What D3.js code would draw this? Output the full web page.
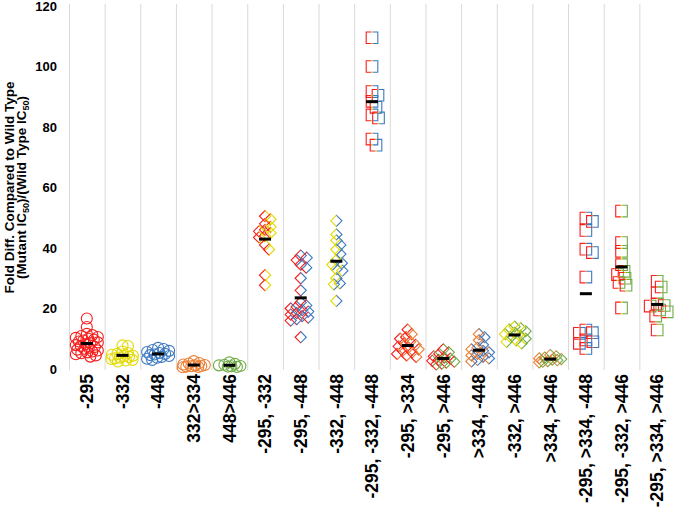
<!DOCTYPE html>
<html>
<head>
<meta charset="utf-8">
<script src="https://cdn.jsdelivr.net/npm/d3@7"></script>
<style>
  body { margin: 0; background: #fff; }
  text { font-family: "Liberation Sans", Arial, sans-serif; font-weight: bold; fill: #000; }
</style>
</head>
<body>
<div id="chart"></div>
<script>
// chart size
var svgWidth = 675;
var svgHeight = 511;

// categories (mutant groups) and the mutations each one carries
var categories = ["-295", "-332", "-448", "332>334", "448>446",
  "-295, -332", "-295, -448", "-332, -448", "-295, -332, -448",
  "-295, >334", "-295, >446", ">334, -448", "-332, >446", ">334, >446",
  "-295, >334, -448", "-295, -332, >446", "-295, >334, >446"];

var groupMutations = [["-295"], ["-332"], ["-448"], [">334"], [">446"],
  ["-295", "-332"], ["-295", "-448"], ["-332", "-448"], ["-295", "-332", "-448"],
  ["-295", ">334"], ["-295", ">446"], [">334", "-448"], ["-332", ">446"], [">334", ">446"],
  ["-295", ">334", "-448"], ["-295", "-332", ">446"], ["-295", ">334", ">446"]];

var mutationColors = {"-295": "#f71d1d", "-332": "#e2d900", "-448": "#3b78c0", ">334": "#ed7d31", ">446": "#6fac46"};

// fold difference values, one array per group
var fd295 = [16.7, 13.9, 11.6, 11.2, 10.9, 10.6, 10.3, 10.0, 9.7, 9.4, 9.1, 8.8, 8.5, 8.2, 7.9, 7.6, 7.3, 7.0, 6.7, 6.4, 6.1, 5.8, 5.5, 5.2, 4.9, 4.5, 4.1];
var fd332 = [7.8, 7.6, 5.8, 5.3, 5.0, 4.7, 4.4, 4.2, 4.0, 3.8, 3.5, 3.3, 3.0, 2.8, 2.5];
var fd448 = [7.0, 6.6, 6.3, 6.0, 5.6, 5.3, 5.0, 4.8, 4.6, 4.3, 4.0, 3.7, 3.4, 3.0];
var fd332to334 = [2.6, 2.0, 1.8, 1.5, 1.3, 1.2, 1.0, 0.9, 0.8, 0.7, 0.6];
var fd448to446 = [2.2, 1.7, 1.4, 1.2, 1.0, 0.9, 0.8, 0.7];
var fd295_332 = [50.5, 49.5, 48, 47, 46, 45.5, 45, 44, 43.5, 41, 39.5, 31, 27.7];
var fd295_448 = [37.5, 36.8, 36, 34.5, 33.5, 30, 26, 22, 21, 20.5, 20, 19.5, 19, 18.5, 18, 17.5, 17, 16.5, 16, 10.5];
var fd332_448 = [49, 44.5, 42.5, 41, 39.5, 38, 36, 35, 34.5, 33, 32.5, 30, 28.3, 28, 22.5];
var fd295_332_448 = [109.5, 100, 91.7, 90.5, 88.5, 86.5, 84, 83, 76, 74];
var fd295_334 = [13, 11.5, 10.5, 10, 9, 8.5, 8, 7.5, 7, 6.5, 6, 5.5, 5, 4.5, 4];
var fd295_446 = [6.5, 5.5, 5, 4.2, 3.8, 3.4, 3, 2.7, 2.4, 2.1, 1.8, 1.5];
var fd334_448 = [11.5, 10.5, 9.5, 8, 7, 6.5, 6, 5.5, 5, 4.5, 4, 3.5, 3, 2.5];
var fd332_446 = [14, 13.5, 13, 12.5, 12, 11.5, 11, 10.5, 10, 9.5, 9, 8.5];
var fd334_446 = [4.6, 4.2, 3.8, 3.5, 3.3, 3.1, 2.9, 2.6, 2.4, 2.2];
var fd295_334_448 = [49.9, 48.8, 45.8, 39.6, 38.5, 30.4, 12.9, 12, 11.8, 9.6, 9, 8.5, 6.8];
var fd295_332_446 = [52.2, 41.8, 38.9, 34.5, 32.3, 31.2, 30, 28.6, 27.7, 20.2];
var fd295_334_446 = [29, 27.1, 25.2, 21.5, 21, 20.8, 19.5, 18.9, 17.5, 12.9];

var groupValues = [fd295, fd332, fd448, fd332to334, fd448to446,
  fd295_332, fd295_448, fd332_448, fd295_332_448,
  fd295_334, fd295_446, fd334_448, fd332_446, fd334_446,
  fd295_334_448, fd295_332_446, fd295_334_446];

var yTicks = [0, 20, 40, 60, 80, 100, 120];

// margins
var margin = {top: 6, right: 0, bottom: 142, left: 69};
var chartWidth = svgWidth - margin.left - margin.right;
var chartHeight = svgHeight - margin.top - margin.bottom;

var svg = d3.select("#chart")
  .append("svg")
  .attr("width", svgWidth)
  .attr("height", svgHeight);

var chartGroup = svg.append("g")
  .attr("transform", `translate(${margin.left}, ${margin.top})`);

// scales
var xScale = d3.scaleBand()
  .domain(categories)
  .range([0, chartWidth])
  .padding(0);

var yScale = d3.scaleLinear()
  .domain([0, 120])
  .range([chartHeight, 0]);

// vertical grid lines between groups
chartGroup.selectAll(".grid")
  .data(categories)
  .enter()
  .append("line")
  .attr("x1", d => xScale(d) + 0.5)
  .attr("x2", d => xScale(d) + 0.5)
  .attr("y1", -2)
  .attr("y2", chartHeight + 1)
  .attr("stroke", "#d9d9d9")
  .attr("stroke-width", 1);

// y axis
var leftAxis = d3.axisLeft(yScale).tickValues(yTicks).tickSize(0).tickPadding(12);
var yAxisG = chartGroup.append("g").call(leftAxis);
yAxisG.select(".domain").remove();
yAxisG.selectAll("text")
  .style("font-family", "'Liberation Sans', Arial, sans-serif")
  .style("font-weight", "bold")
  .style("font-size", "13px")
  .attr("fill", "#000");

// x labels (rotated)
chartGroup.selectAll(".xlabel")
  .data(categories)
  .enter()
  .append("text")
  .attr("transform", d => `translate(${xScale(d) + xScale.bandwidth() / 2}, ${chartHeight + 5}) rotate(-90)`)
  .attr("dy", "0.36em")
  .attr("text-anchor", "end")
  .style("font-size", "17.5px")
  .text(d => d);

// y axis title, two lines
var titleG = svg.append("g")
  .attr("transform", `translate(0, ${margin.top + chartHeight / 2}) rotate(-90)`);
titleG.append("text")
  .attr("y", 14)
  .attr("text-anchor", "middle")
  .style("font-size", "13.5px")
  .text("Fold Diff. Compared to Wild Type");
var line2 = titleG.append("text")
  .attr("y", 26)
  .attr("text-anchor", "middle")
  .style("font-size", "13.5px");
line2.append("tspan").text("(Mutant IC");
line2.append("tspan").attr("dy", 3).style("font-size", "9px").text("50");
line2.append("tspan").attr("dy", -3).text(")/(Wild Type IC");
line2.append("tspan").attr("dy", 3).style("font-size", "9px").text("50");
line2.append("tspan").attr("dy", -3).text(")");

// gradients giving each multi-mutation marker its mixed edge colours
var defs = svg.append("defs");
groupMutations.forEach(function(muts, i) {
  var grad = defs.append("linearGradient")
    .attr("id", "grad" + i)
    .attr("x1", 0).attr("x2", 1).attr("y1", 0).attr("y2", 0);
  var stops;
  if (muts.length === 1) {
    stops = [[0, muts[0]], [1, muts[0]]];
  } else if (muts.length === 2) {
    stops = [[0, muts[0]], [0.42, muts[0]], [0.58, muts[1]], [1, muts[1]]];
  } else {
    stops = [[0, muts[0]], [0.36, muts[0]], [0.5, muts[1]], [0.64, muts[2]], [1, muts[2]]];
  }
  stops.forEach(function(s) {
    grad.append("stop").attr("offset", s[0]).attr("stop-color", mutationColors[s[1]]);
  });
});

// simple beeswarm: keep the value, nudge sideways until it clears placed points,
// staying inside the group's band
function swarm(vals, minDist, maxDx) {
  var pts = vals.map(function(v) { return {v: v, y: yScale(v), dx: 0}; });
  var placed = [];
  pts.slice().sort(function(a, b) { return b.v - a.v; }).forEach(function(p) {
    var best = 0, bestGap = -1, found = false;
    for (var k = 0; ; k++) {
      var dx = (k % 2 ? 1 : -1) * Math.ceil(k / 2) * 0.5;
      if (Math.abs(dx) > maxDx) break;
      var gap = d3.min(placed, function(q) {
        return Math.sqrt((dx - q.dx) * (dx - q.dx) + (p.y - q.y) * (p.y - q.y));
      });
      if (gap === undefined || gap >= minDist) { p.dx = dx; found = true; break; }
      if (gap > bestGap) { bestGap = gap; best = dx; }
    }
    if (!found) p.dx = best;
    placed.push(p);
  });
  return pts;
}

function markerPath(n, s) {
  if (n === 1) {
    var p = d3.path();
    p.moveTo(s, 0);
    p.arc(0, 0, s, 0, 2 * Math.PI);
    p.closePath();
    return p.toString();
  }
  if (n === 2) return `M${-s},0L0,${-s}L${s},0L0,${s}Z`;
  return `M${-s},${-s}H${s}V${s}H${-s}Z`;
}

// points and mean bars
categories.forEach(function(cat, i) {
  var cx = xScale(cat) + xScale.bandwidth() / 2;
  var n = groupMutations[i].length;
  var size = n === 1 ? 5.5 : (n === 2 ? 5.6 : 5.8);
  var minDist = n === 1 ? 5.5 : (n === 2 ? 6 : 7);
  var maxDx = xScale.bandwidth() / 2 - size - 1;
  var pts = swarm(groupValues[i], minDist, maxDx);

  chartGroup.append("g")
    .selectAll("path")
    .data(pts)
    .enter()
    .append("path")
    .attr("d", markerPath(n, size))
    .attr("transform", d => `translate(${cx + d.dx}, ${d.y})`)
    .attr("fill", "none")
    .attr("stroke", n === 1 ? mutationColors[groupMutations[i][0]] : `url(#grad${i})`)
    .attr("stroke-width", 1.1);

  var mean = d3.mean(groupValues[i]);
  chartGroup.append("line")
    .attr("x1", cx - 6)
    .attr("x2", cx + 6)
    .attr("y1", yScale(mean))
    .attr("y2", yScale(mean))
    .attr("stroke", "#000")
    .attr("stroke-width", 3);
});
</script>
</body>
</html>
